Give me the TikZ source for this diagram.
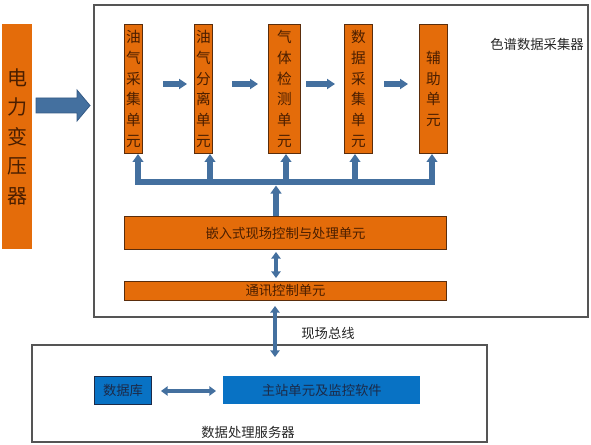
\documentclass[tikz,border=0pt]{standalone}
\usepackage{fontspec}
\setmainfont{Noto Sans CJK SC}
\usetikzlibrary{arrows.meta,calc}
\definecolor{org}{HTML}{E46C0A}
\definecolor{orgline}{HTML}{5A2D0C}
\definecolor{orgtext}{HTML}{4A1E00}
\definecolor{arr}{HTML}{44709F}
\definecolor{arrline}{HTML}{355A85}
\definecolor{bluebox}{HTML}{0872C4}
\definecolor{bluetext}{HTML}{1C2A48}
\definecolor{frame}{HTML}{555555}
\tikzset{
  obox/.style={draw=orgline, line width=0.75pt, fill=org, text=orgtext, inner sep=0pt, anchor=north west},
  vtext/.style={align=center, font=\fontsize{11}{15.5}\selectfont},
  bbox/.style={fill=bluebox, text=bluetext, inner sep=0pt, anchor=north west, font=\fontsize{10}{12}\selectfont},
  frm/.style={draw=frame, line width=0.9pt},
  harrow/.style={draw=arr, line width=3.9pt, -{Triangle[length=6pt,width=7.5pt]}},
  uparrow/.style={draw=arr, line width=3.8pt, -{Triangle[length=6pt,width=8pt]}},
  dbl/.style={draw=arr, line width=3pt, {Triangle[length=5pt,width=7pt]}-{Triangle[length=5pt,width=7pt]}},
  busbar/.style={draw=arr, line width=5.2pt},
  lbl/.style={font=\fontsize{10}{12}\selectfont, text=black!85}
}
\begin{document}
\begin{tikzpicture}[x=0.75pt,y=-0.75pt]
\useasboundingbox (0,0) rectangle (591,445);
% frames
\draw[frm] (94,5) rectangle (588,317);
\draw[frm] (32,345) rectangle (487,442);
% transformer
\node[fill=org, text=orgtext, inner sep=0pt, anchor=north west, minimum width=22.5pt, minimum height=168.75pt, align=center, font=\fontsize{15}{22.2}\selectfont] (tr) at (2,24) {电\\力\\变\\压\\器};
% big arrow
\fill[arr, draw=arrline, line width=0.6pt] (36,98) -- (77,98) -- (77,90) -- (90,105.5) -- (77,121) -- (77,113) -- (36,113) -- cycle;
% top boxes
\node[obox, vtext, minimum width=13.5pt, minimum height=96.75pt] (b1) at (124,24) {油\\气\\采\\集\\单\\元};
\node[obox, vtext, minimum width=13.5pt, minimum height=96.75pt] (b2) at (194,24) {油\\气\\分\\离\\单\\元};
\node[obox, vtext, minimum width=24pt, minimum height=96.75pt] (b3) at (268,24) {气\\体\\检\\测\\单\\元};
\node[obox, vtext, minimum width=21pt, minimum height=96.75pt] (b4) at (344,24) {数\\据\\采\\集\\单\\元};
\node[obox, vtext, minimum width=21pt, minimum height=96.75pt] (b5) at (419,24) {辅\\助\\单\\元};
% horizontal arrows
\draw[harrow] (163,84) -- (187,84);
\draw[harrow] (232,84) -- (258,84);
\draw[harrow] (306,84) -- (335,84);
\draw[harrow] (384,84) -- (408,84);
% bus
\coordinate (busL) at (135,182);
\coordinate (busR) at (435,182);
\draw[busbar] (busL) -- (busR);
\draw[uparrow] (138,182) -- (138,182 |- b1.south);
\draw[uparrow] (210,182) -- (210,182 |- b2.south);
\draw[uparrow] (286,182) -- (286,182 |- b3.south);
\draw[uparrow] (355,182) -- (355,182 |- b4.south);
\draw[uparrow] (432,182) -- (432,182 |- b5.south);
% embedded + comm
\node[obox, minimum width=241.5pt, minimum height=24.75pt, font=\fontsize{10}{12}\selectfont] (emb) at (124,216) {嵌入式现场控制与处理单元};
\node[obox, minimum width=241.5pt, minimum height=14.25pt, font=\fontsize{10}{12}\selectfont] (com) at (124,281) {通讯控制单元};
\draw[uparrow] (276,185 |- emb.north) -- (276,185.5);
\draw[dbl] (276,252) -- (276,278);
% lower
\node[bbox, draw=bluetext, line width=0.75pt, minimum width=42.75pt, minimum height=21pt] (db) at (94,376) {数据库};
\node[bbox, minimum width=147.75pt, minimum height=21pt] (ms) at (223,376) {主站单元及监控软件};
\draw[dbl] (275,306) -- (275,357);
\draw[dbl] (161,391) -- (216,391);
% labels
\node[lbl] (l1) at (537,44) {色谱数据采集器};
\node[lbl] (l2) at (328,333) {现场总线};
\node[lbl] (l3) at (248,432) {数据处理服务器};
\end{tikzpicture}
\end{document}
